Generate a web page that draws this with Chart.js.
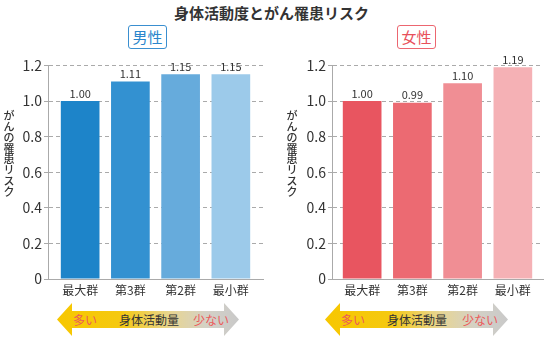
<!DOCTYPE html>
<html lang="ja">
<head>
<meta charset="utf-8">
<script src="https://cdn.jsdelivr.net/npm/chart.js@4"></script>
<style>
  body { margin: 0; width: 550px; height: 341px; background: #fff; position: relative; overflow: hidden;
         font-family: "Noto Sans CJK JP", "Noto Sans", sans-serif; color: #333; }
  .title { position: absolute; left: 0; width: 543px; top: 2px; text-align: center; font-size: 15px; font-weight: bold; }
  .sex { position: absolute; top: 25px; width: 37px; height: 22px; border: 1.5px solid; border-radius: 3px;
         font-size: 15px; line-height: 22px; text-align: center; }
  .chart { position: absolute; top: 55px; height: 250px; }
  .arrow { position: absolute; top: 303px; height: 33px; font-size: 12px; line-height: 33px;
           background: linear-gradient(to right, #f7c700 0%, #f5c910 35%, #e8d590 62%, #d4d1c6 82%, #c9c9c9 100%);
           clip-path: polygon(0 50%, 15px 0, 15px 8px, calc(100% - 15px) 8px, calc(100% - 15px) 0, 100% 50%,
                              calc(100% - 15px) 100%, calc(100% - 15px) 25px, 15px 25px, 15px 100%); }
  .arrow span { position: absolute; top: 0; white-space: nowrap; }
  .arrow .hi, .arrow .lo { color: #ec5a5a; }
</style>
</head>
<body>
<div class="title">身体活動度とがん罹患リスク</div>
<div class="sex" style="left:128px; border-color:#3a8fd0; color:#2a86cc;">男性</div>
<div class="sex" style="left:397px; border-color:#ec6670; color:#e8505b;">女性</div>

<div class="chart" style="left:0; width:275px;"><canvas id="male"></canvas></div>
<div class="chart" style="left:280px; width:270px;"><canvas id="female"></canvas></div>

<div class="arrow" style="left:57px; width:182px;">
  <span class="hi" style="left:16px;">多い</span>
  <span style="left:62px;">身体活動量</span>
  <span class="lo" style="left:136px;">少ない</span>
</div>
<div class="arrow" style="left:325px; width:183px;">
  <span class="hi" style="left:16px;">多い</span>
  <span style="left:62px;">身体活動量</span>
  <span class="lo" style="left:137px;">少ない</span>
</div>

<script>
// categories (activity level groups)
const groups = ['最大群', '第3群', '第2群', '最小群'];

// relative risk values
const maleRisk = [1.00, 1.11, 1.15, 1.15];
const femaleRisk = [1.00, 0.99, 1.10, 1.19];

const maleColors = ['#1d84c9', '#3391d1', '#66abdc', '#9ccaea'];
const femaleColors = ['#e85560', '#ec6a72', '#f08e94', '#f5b1b5'];

const yTitle = 'がんの罹患リスク';
const FONT = '"Noto Sans CJK JP", "Noto Sans", sans-serif';

// value labels above each bar
const valueLabels = {
    id: 'valueLabels',
    afterDatasetsDraw(chart) {
        const ctx = chart.ctx;
        const meta = chart.getDatasetMeta(0);
        const data = chart.data.datasets[0].data;
        ctx.save();
        ctx.font = '11px ' + FONT;
        ctx.fillStyle = '#333';
        ctx.textAlign = 'center';
        ctx.textBaseline = 'bottom';
        meta.data.forEach((bar, i) => {
            ctx.fillText(data[i].y.toFixed(2), bar.x, bar.y - 2);
        });
        ctx.restore();
    }
};

// vertical (upright) y axis title
const verticalTitle = {
    id: 'verticalTitle',
    afterDraw(chart, args, opts) {
        const ctx = chart.ctx;
        ctx.save();
        ctx.font = '500 11px ' + FONT;
        ctx.fillStyle = '#333';
        ctx.textAlign = 'center';
        ctx.textBaseline = 'middle';
        [...yTitle].forEach((ch, i) => {
            ctx.fillText(ch, opts.x, opts.y + i * 10.8);
        });
        ctx.restore();
    }
};

function makeChart(id, values, colors, opt) {
    const points = values.map((v, i) => ({ x: i, y: v }));
    new Chart(document.getElementById(id), {
        type: 'bar',
        data: {
            datasets: [{
                data: points,
                backgroundColor: colors,
                barPercentage: 0.77,
                categoryPercentage: 1
            }]
        },
        options: {
            responsive: true,
            maintainAspectRatio: false,
            animation: false,
            layout: { padding: { top: 10, right: opt.right, left: 0, bottom: 0 } },
            plugins: {
                legend: { display: false },
                tooltip: { enabled: false },
                verticalTitle: { x: opt.titleX, y: 61 }
            },
            scales: {
                x: {
                    type: 'linear',
                    offset: false,
                    min: opt.min,
                    max: opt.max,
                    afterBuildTicks: scale => { scale.ticks = groups.map((_, i) => ({ value: i })); },
                    afterFit: scale => { scale.height = 26; },
                    grid: { display: false, offset: false, drawTicks: false },
                    border: { display: true, color: '#aaa', width: 1 },
                    ticks: {
                        autoSkip: false,
                        maxRotation: 0,
                        padding: 4,
                        color: '#333',
                        font: { size: 12, family: FONT },
                        callback: v => groups[v]
                    }
                },
                y: {
                    min: 0,
                    max: 1.2,
                    afterFit: scale => { scale.width = opt.axisX; },
                    ticks: {
                        stepSize: 0.2,
                        padding: 2,
                        color: '#333',
                        font: { size: 14, family: FONT },
                        callback: v => v === 0 ? '0' : v.toFixed(1)
                    },
                    grid: { color: '#aaa', lineWidth: 1, tickLength: 4, tickColor: '#aaa' },
                    border: { color: '#aaa', width: 1, dash: [4, 3] }
                }
            }
        },
        plugins: [valueLabels, verticalTitle]
    });
}

makeChart('male', maleRisk, maleColors, { min: -0.64, max: 3.64, right: 12, axisX: 48, titleX: 9 });
makeChart('female', femaleRisk, femaleColors, { min: -0.6, max: 3.6, right: 7, axisX: 52, titleX: 12 });
</script>
</body>
</html>
